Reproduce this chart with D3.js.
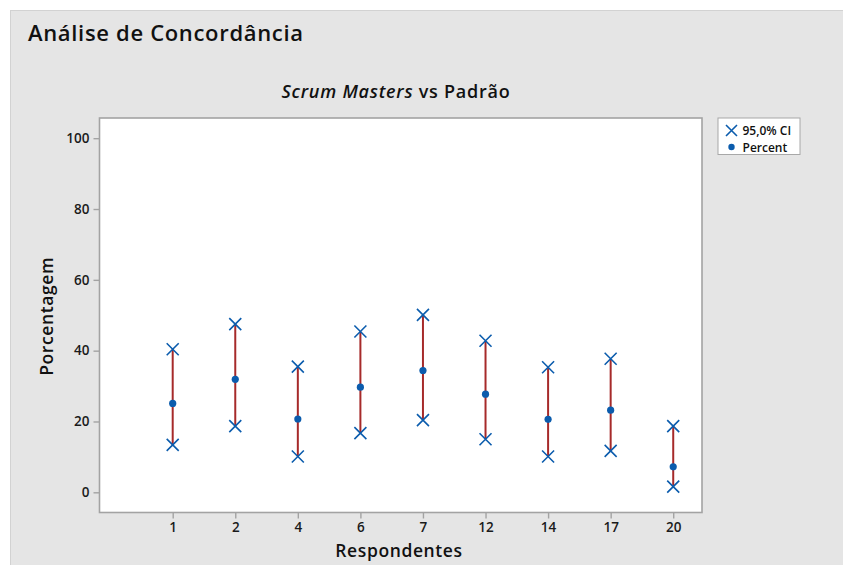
<!DOCTYPE html>
<html>
<head>
<meta charset="utf-8">
<script src="https://cdn.jsdelivr.net/npm/d3@7"></script>
<style>
  html, body { margin: 0; padding: 0; background: #ffffff; }
  svg { display: block; font-family: "Open Sans", "Noto Sans", sans-serif; }
</style>
</head>
<body>
<svg id="chart" width="843" height="565"></svg>
<script>
// Respondents and agreement percentages with 95% confidence bounds
const respondents = ["1", "2", "4", "6", "7", "12", "14", "17", "20"];
const percent     = [25.1, 31.9, 20.7, 29.7, 34.4, 27.7, 20.6, 23.2, 7.2];
const ciLower     = [13.4, 18.7, 10.1, 16.7, 20.4, 15.0, 10.1, 11.7, 1.6];
const ciUpper     = [40.4, 47.5, 35.5, 45.4, 50.1, 42.8, 35.3, 37.7, 18.7];
const yTicks      = [0, 20, 40, 60, 80, 100];

const svg = d3.select("#chart");
const W = 843, H = 565;

// panel background
svg.append("rect").attr("x", 10.5).attr("y", 10.5).attr("width", W).attr("height", H)
  .attr("fill", "#e5e5e5").attr("stroke", "#d2d2d2").attr("stroke-width", 1);

const plot = { left: 99.5, top: 118, right: 702, bottom: 512.5 };

const x = d3.scaleLinear()
  .domain([-1.17, 8.46])
  .range([plot.left, plot.right]);
const y = d3.scaleLinear()
  .domain([-5.7, 105.7])
  .range([plot.bottom, plot.top]);

// plot area
svg.append("rect")
  .attr("x", plot.left).attr("y", plot.top)
  .attr("width", plot.right - plot.left).attr("height", plot.bottom - plot.top)
  .attr("fill", "#ffffff").attr("stroke", "#a3a3a3").attr("stroke-width", 1.6);

// titles
svg.append("text").attr("x", 28).attr("y", 41)
  .attr("font-size", 22).attr("font-weight", 600).attr("fill", "#111")
  .attr("textLength", 275).attr("lengthAdjust", "spacing")
  .text("Análise de Concordância");

const sub = svg.append("text").attr("x", 396).attr("y", 98)
  .attr("text-anchor", "middle").attr("font-size", 18).attr("font-weight", 600).attr("fill", "#111")
  .attr("letter-spacing", 0.75);
sub.append("tspan").attr("font-style", "italic").text("Scrum Masters");
sub.append("tspan").text(" vs Padrão");

// axes
const yAxis = d3.axisLeft(y).tickValues(yTicks).tickSize(6).tickPadding(4).tickFormat(d3.format("d"));
const gy = svg.append("g").attr("transform", `translate(${plot.left},0)`).call(yAxis);
gy.select(".domain").remove();

const xAxis = d3.axisBottom(x).tickValues(d3.range(respondents.length))
  .tickFormat(i => respondents[i]).tickSize(6).tickPadding(4);
const gx = svg.append("g").attr("transform", `translate(0,${plot.bottom})`).call(xAxis);
gx.select(".domain").remove();

[gx, gy].forEach(g => {
  g.selectAll(".tick line").attr("stroke", "#a3a3a3").attr("stroke-width", 1.4);
  g.selectAll(".tick text").attr("font-size", 13.5).attr("font-weight", 600)
    .attr("fill", "#1a1a1a").attr("font-family", "\"Open Sans\", sans-serif");
});

svg.append("text").attr("x", 399).attr("y", 557)
  .attr("text-anchor", "middle").attr("font-size", 17.5).attr("font-weight", 600).attr("fill", "#111")
  .attr("letter-spacing", 0.6)
  .text("Respondentes");
svg.append("text")
  .attr("transform", `translate(53,${(plot.top + plot.bottom) / 2 + 1}) rotate(-90)`)
  .attr("text-anchor", "middle").attr("font-size", 17.5).attr("font-weight", 600).attr("fill", "#111")
  .attr("letter-spacing", 0.6)
  .text("Porcentagem");

// interval lines
const blue = "#0b5cad", red = "#a62a2a";
const idx = d3.range(respondents.length);
svg.append("g").selectAll("line").data(idx).join("line")
  .attr("x1", i => x(i)).attr("x2", i => x(i))
  .attr("y1", i => y(ciLower[i])).attr("y2", i => y(ciUpper[i]))
  .attr("stroke", red).attr("stroke-width", 2);

// CI markers
const cross = (g, cx, cy, s) => g.append("path")
  .attr("d", `M${cx - s},${cy - s}L${cx + s},${cy + s}M${cx - s},${cy + s}L${cx + s},${cy - s}`)
  .attr("stroke", blue).attr("stroke-width", 1.6).attr("fill", "none");
const marks = svg.append("g");
idx.forEach(i => {
  cross(marks, x(i), y(ciLower[i]), 6);
  cross(marks, x(i), y(ciUpper[i]), 6);
});

// percent points
svg.append("g").selectAll("circle").data(idx).join("circle")
  .attr("cx", i => x(i)).attr("cy", i => y(percent[i])).attr("r", 3.6)
  .attr("fill", blue);

// legend
const lg = svg.append("g");
lg.append("rect").attr("x", 718).attr("y", 118).attr("width", 82).attr("height", 36.5)
  .attr("fill", "#ffffff").attr("stroke", "#a8a8a8").attr("stroke-width", 1);
cross(lg, 731.5, 130.5, 5.5);
lg.append("circle").attr("cx", 731.5).attr("cy", 147).attr("r", 3.2).attr("fill", blue);
lg.append("text").attr("x", 742.5).attr("y", 134.5).attr("font-size", 12).attr("font-weight", 600)
  .attr("fill", "#111").text("95,0% CI");
lg.append("text").attr("x", 742.5).attr("y", 151.5).attr("font-size", 12).attr("font-weight", 600)
  .attr("fill", "#111").text("Percent");
</script>
</body>
</html>
